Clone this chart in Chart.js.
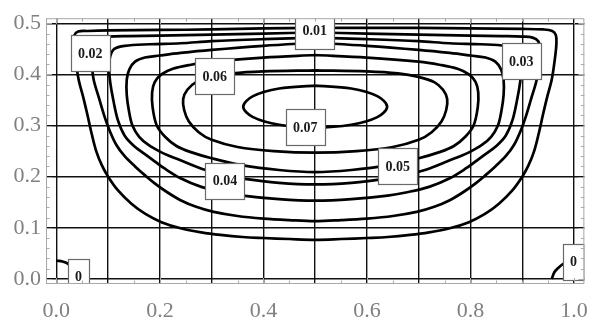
<!DOCTYPE html>
<html><head><meta charset="utf-8">
<script src="https://cdn.jsdelivr.net/npm/chart.js@4.4.1/dist/chart.umd.min.js"></script>
<style>html,body{margin:0;padding:0;background:#fff}#wrap{width:602px;height:320px;position:relative}</style>
</head><body><div id="wrap"><canvas id="c" width="602" height="320"></canvas></div>
<script>
// ---- axis ticks / labels ----
const xGrid = [0, 0.1, 0.2, 0.3, 0.4, 0.5, 0.6, 0.7, 0.8, 0.9, 1.0];
const xTickLabels = ['0.0', '', '0.2', '', '0.4', '', '0.6', '', '0.8', '', '1.0'];
const yGrid = [0, 0.1, 0.2, 0.3, 0.4, 0.5];
const yTickLabels = ['0.0', '0.1', '0.2', '0.3', '0.4', '0.5'];

// ---- contour levels ----
const levels = ['0.01', '0.02', '0.03', '0.04', '0.05', '0.06', '0.07'];

// contour 0.01
const c1x = [0.5,0.4,0.3,0.2,0.1,0.06,0.042,0.035,0.034,0.037,0.043,0.052,0.060,0.068,0.077,0.088,0.100,0.120,0.145,0.172,0.203,0.240,0.280,0.317,0.360,0.400,0.450,0.500,0.550,0.600,0.640,0.683,0.720,0.760,0.797,0.828,0.855,0.880,0.900,0.912,0.923,0.932,0.940,0.948,0.957,0.963,0.966,0.965,0.958,0.940,0.900,0.800,0.700,0.600,0.500];
const c1y = [0.491,0.490,0.488,0.487,0.486,0.485,0.484,0.477,0.46,0.43,0.39,0.355,0.321,0.285,0.25,0.222,0.200,0.172,0.147,0.127,0.111,0.099,0.091,0.086,0.082,0.080,0.078,0.0765,0.078,0.080,0.082,0.086,0.091,0.099,0.111,0.127,0.147,0.172,0.200,0.222,0.25,0.285,0.321,0.355,0.39,0.43,0.46,0.477,0.485,0.488,0.489,0.490,0.491,0.491,0.491];
// contour 0.02
const c2x = [0.5,0.4,0.3,0.2,0.14,0.10,0.08,0.069,0.066,0.068,0.072,0.082,0.092,0.103,0.116,0.132,0.152,0.172,0.190,0.215,0.240,0.270,0.304,0.350,0.400,0.450,0.500,0.550,0.600,0.650,0.696,0.730,0.760,0.785,0.810,0.828,0.848,0.868,0.884,0.897,0.908,0.918,0.928,0.932,0.934,0.931,0.920,0.900,0.860,0.800,0.700,0.600,0.500];
const c2y = [0.482,0.480,0.478,0.476,0.475,0.474,0.472,0.465,0.45,0.425,0.39,0.355,0.321,0.29,0.262,0.24,0.22,0.202,0.187,0.169,0.154,0.141,0.131,0.123,0.118,0.115,0.113,0.115,0.118,0.123,0.131,0.141,0.154,0.169,0.187,0.202,0.22,0.24,0.262,0.29,0.321,0.355,0.39,0.425,0.45,0.465,0.472,0.474,0.475,0.476,0.478,0.480,0.482];
// contour 0.03
const c3x = [0.5,0.4,0.3,0.24,0.18,0.132,0.112,0.104,0.102,0.104,0.110,0.119,0.132,0.150,0.171,0.190,0.209,0.240,0.280,0.320,0.360,0.430,0.500,0.570,0.640,0.680,0.720,0.760,0.791,0.810,0.829,0.850,0.868,0.881,0.890,0.896,0.898,0.896,0.888,0.868,0.820,0.760,0.700,0.600,0.500];
const c3y = [0.472,0.469,0.465,0.461,0.459,0.456,0.45,0.435,0.41,0.385,0.35,0.31,0.28,0.26,0.244,0.23,0.216,0.197,0.18,0.170,0.163,0.156,0.153,0.156,0.163,0.170,0.18,0.197,0.216,0.23,0.244,0.26,0.28,0.31,0.35,0.385,0.41,0.435,0.45,0.456,0.459,0.461,0.465,0.469,0.472];
// contour 0.04
const c4x = [0.5,0.4,0.3,0.24,0.2,0.171,0.152,0.141,0.136,0.136,0.140,0.147,0.160,0.178,0.200,0.220,0.240,0.288,0.330,0.360,0.430,0.500,0.570,0.640,0.670,0.712,0.760,0.780,0.800,0.822,0.840,0.853,0.860,0.864,0.864,0.859,0.848,0.829,0.800,0.760,0.700,0.600,0.500];
const c4y = [0.462,0.456,0.448,0.442,0.437,0.433,0.425,0.41,0.39,0.36,0.33,0.30,0.278,0.262,0.249,0.240,0.232,0.213,0.202,0.196,0.188,0.185,0.188,0.196,0.202,0.213,0.232,0.240,0.249,0.262,0.278,0.30,0.33,0.36,0.39,0.41,0.425,0.433,0.437,0.442,0.448,0.456,0.462];
// contour 0.05
const c5x = [0.5,0.4,0.3,0.26,0.225,0.203,0.19,0.185,0.186,0.194,0.21,0.232,0.26,0.30,0.36,0.43,0.5,0.57,0.64,0.70,0.74,0.768,0.79,0.806,0.814,0.815,0.81,0.797,0.775,0.74,0.70,0.60,0.5];
const c5y = [0.438,0.433,0.425,0.419,0.411,0.40,0.385,0.365,0.335,0.30,0.278,0.26,0.248,0.236,0.222,0.213,0.209,0.213,0.222,0.236,0.248,0.26,0.278,0.30,0.335,0.365,0.385,0.40,0.411,0.419,0.425,0.433,0.438];
// contour 0.06
const c6x = [0.5,0.4,0.34,0.3,0.27,0.253,0.245,0.247,0.256,0.275,0.30,0.35,0.42,0.5,0.58,0.65,0.70,0.725,0.744,0.753,0.755,0.747,0.73,0.70,0.66,0.60,0.5];
const c6y = [0.408,0.406,0.402,0.395,0.385,0.37,0.352,0.33,0.308,0.287,0.272,0.258,0.25,0.247,0.25,0.258,0.272,0.287,0.308,0.33,0.352,0.37,0.385,0.395,0.402,0.406,0.408];
// contour 0.07
const c7x = [0.5,0.4305,0.380,0.361,0.380,0.4305,0.5,0.5695,0.620,0.639,0.620,0.5695,0.5];
const c7y = [0.378,0.3725,0.3575,0.337,0.3165,0.3015,0.296,0.3015,0.3165,0.337,0.3575,0.3725,0.378];
// contour 0 (corner eddies)
const z1x = [0.0,0.012,0.022,0.030,0.037,0.043];
const z1y = [0.036,0.034,0.030,0.022,0.012,0.0];
const z2x = [0.957,0.962,0.970,0.980,0.990,1.0];
const z2y = [0.0,0.013,0.022,0.030,0.034,0.036];

// ---- contour labels ----
const labelText = ['0.01', '0.02', '0.03', '0.04', '0.05', '0.06', '0.07', '0', '0'];
const labelX = [0.499, 0.0653, 0.898, 0.3257, 0.6593, 0.3058, 0.4808, 0.043, 0.999];
const labelY = [0.4857, 0.4417, 0.4264, 0.1922, 0.2208, 0.3967, 0.2964, 0.004, 0.0335];

const curves = [[c1x,c1y],[c2x,c2y],[c3x,c3y],[c4x,c4y],[c5x,c5y],[c6x,c6y],[c7x,c7y],[z1x,z1y],[z2x,z2y]];
const datasets = curves.map(([xs, ys], i) => ({
  label: i < levels.length ? levels[i] : '0',
  data: xs.map((v, j) => ({x: v, y: ys[j]})),
  showLine: true,
  borderColor: '#000',
  borderWidth: 2.7,
  pointRadius: 0,
  tension: 0.35,
  fill: false
}));

const labelPlugin = {
  id: 'contourLabels',
  afterDatasetsDraw(chart) {
    const {ctx, chartArea: a, scales: {x, y}} = chart;
    ctx.save();
    ctx.beginPath(); ctx.rect(a.left, a.top, a.right - a.left, a.bottom - a.top); ctx.clip();
    ctx.font = 'bold 14px "Liberation Serif"';
    ctx.textAlign = 'center'; ctx.textBaseline = 'middle';
    labelText.forEach((t, i) => {
      const px = x.getPixelForValue(labelX[i]), py = y.getPixelForValue(labelY[i]);
      const w = Math.round(ctx.measureText(t).width + 14), h = 36;
      const lx = Math.round(px - w / 2) + 0.5, ly = Math.round(py - h / 2) + 0.5;
      ctx.fillStyle = '#fff'; ctx.fillRect(lx, ly, w, h);
      ctx.strokeStyle = '#6a6a6a'; ctx.lineWidth = 1.2; ctx.strokeRect(lx, ly, w, h);
      ctx.fillStyle = '#1a1a1a'; ctx.fillText(t, px, py + 1);
    });
    ctx.restore();
  }
};

const framePlugin = {
  id: 'frame',
  afterDraw(chart) {
    const {ctx, chartArea: a, scales: {x, y}} = chart;
    ctx.save();
    ctx.strokeStyle = '#a8a8a8'; ctx.lineWidth = 1;
    ctx.strokeRect(a.left + 0.5, a.top + 0.5, a.right - a.left - 1, a.bottom - a.top - 1);
    ctx.beginPath();
    for (let k = 0; k <= 20; k++) {
      const px = Math.round(x.getPixelForValue(k * 0.05)) + 0.5;
      const len = (k % 4 === 0) ? 6 : 3.5;
      ctx.moveTo(px, a.bottom); ctx.lineTo(px, a.bottom - len);
      ctx.moveTo(px, a.top); ctx.lineTo(px, a.top + len);
    }
    for (let k = 0; k <= 25; k++) {
      const py = Math.round(y.getPixelForValue(k * 0.02)) + 0.5;
      const len = (k % 5 === 0) ? 6 : 3.5;
      ctx.moveTo(a.left, py); ctx.lineTo(a.left + len, py);
      ctx.moveTo(a.right, py); ctx.lineTo(a.right - len, py);
    }
    ctx.stroke();
    ctx.restore();
  }
};

new Chart(document.getElementById('c'), {
  type: 'scatter',
  data: {datasets},
  options: {
    responsive: false,
    animation: false,
    devicePixelRatio: 1,
    layout: {padding: {left: 0, right: 13, top: 12, bottom: 0}},
    plugins: {legend: {display: false}, tooltip: {enabled: false}},
    scales: {
      x: {
        type: 'linear', min: -0.02, max: 1.02,
        afterBuildTicks: s => { s.ticks = xGrid.map(v => ({value: v})); },
        afterFit: s => { s.height = 36; },
        ticks: {autoSkip: false, maxRotation: 0, padding: 14, color: '#808080',
          font: {family: '"Liberation Serif"', size: 22},
          callback: (v, i) => xTickLabels[i]},
        grid: {color: '#111', lineWidth: 1.4, drawTicks: false},
        border: {display: false}
      },
      y: {
        type: 'linear', min: -0.01, max: 0.51,
        afterBuildTicks: s => { s.ticks = yGrid.map(v => ({value: v})); },
        afterFit: s => { s.width = 46; },
        ticks: {autoSkip: false, padding: 5, color: '#808080',
          font: {family: '"Liberation Serif"', size: 22},
          callback: (v, i) => yTickLabels[i]},
        grid: {color: '#111', lineWidth: 1.4, drawTicks: false},
        border: {display: false}
      }
    }
  },
  plugins: [labelPlugin, framePlugin]
});
</script>
</body></html>
